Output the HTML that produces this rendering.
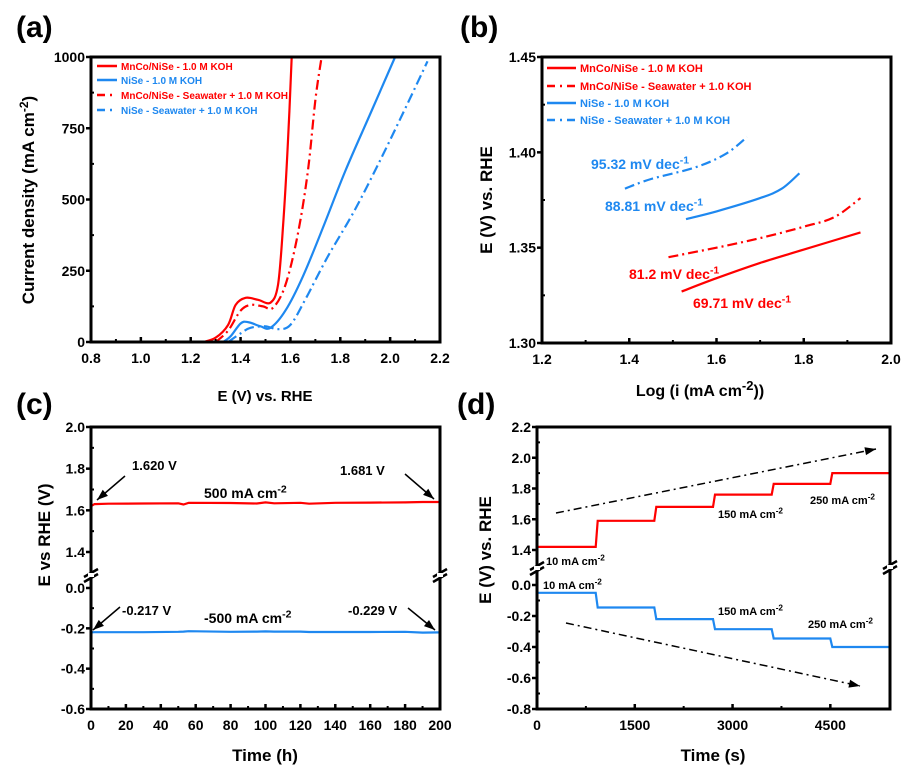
<!DOCTYPE html>
<html><head><meta charset="utf-8"><style>
html,body{margin:0;padding:0;background:#fff;}
svg{display:block;font-family:"Liberation Sans",Arial,sans-serif;font-weight:bold;}
</style></head><body>
<svg id="fig" width="914" height="772" viewBox="0 0 914 772" xmlns="http://www.w3.org/2000/svg">
<g id="gA"></g>
<g id="gB"></g>
<g id="gC"></g>
<g id="gD"></g>
</svg>
<script>
// ---- Panel (a) data: LSV curves (E vs RHE, current density) ----
const aRedSolidE=[1.25,1.30,1.35,1.38,1.42,1.47,1.52,1.55,1.57,1.59,1.605];
const aRedSolidJ=[0,15,60,130,155,148,138,200,400,700,1000];
const aRedDashE=[1.30,1.35,1.40,1.44,1.49,1.53,1.58,1.63,1.67,1.70,1.725];
const aRedDashJ=[0,40,110,130,125,120,200,380,600,850,1000];
const aBlueSolidE=[1.33,1.36,1.40,1.43,1.48,1.52,1.58,1.65,1.73,1.82,1.92,2.02];
const aBlueSolidJ=[0,20,65,70,55,50,110,230,400,600,800,1000];
const aBlueDashE=[1.35,1.40,1.44,1.50,1.55,1.60,1.66,1.75,1.85,1.95,2.05,2.15];
const aBlueDashJ=[0,30,50,55,45,60,150,300,450,620,800,985];
const aXTicks=[0.8,1.0,1.2,1.4,1.6,1.8,2.0,2.2];
const aYTicks=[0,250,500,750,1000];
// ---- Panel (b) data: Tafel ----
const bRedSolidX=[1.52,1.6,1.7,1.8,1.93];
const bRedSolidY=[1.327,1.334,1.342,1.349,1.358];
const bRedDashX=[1.49,1.6,1.7,1.8,1.87,1.93];
const bRedDashY=[1.345,1.350,1.355,1.361,1.366,1.376];
const bBlueSolidX=[1.53,1.6,1.7,1.75,1.79];
const bBlueSolidY=[1.365,1.369,1.376,1.381,1.389];
const bBlueDashX=[1.39,1.45,1.55,1.62,1.67];
const bBlueDashY=[1.381,1.386,1.392,1.399,1.408];
const bXTicks=[1.2,1.4,1.6,1.8,2.0];
const bYTicks=[1.30,1.35,1.40,1.45];
// ---- Panel (c) data: stability ----
const cT=[0,2,10,30,50,53,56,80,95,100,105,120,125,140,160,180,190,200];
const cRed=[1.62,1.63,1.632,1.633,1.634,1.628,1.636,1.635,1.633,1.638,1.634,1.636,1.632,1.636,1.637,1.638,1.64,1.64];
const cBlue=[-0.22,-0.219,-0.219,-0.219,-0.217,-0.216,-0.214,-0.217,-0.216,-0.215,-0.216,-0.216,-0.218,-0.218,-0.218,-0.217,-0.221,-0.22];
const cXTicks=[0,20,40,60,80,100,120,140,160,180,200];
const cYTicksUp=[1.4,1.6,1.8,2.0];
const cYTicksLow=[-0.6,-0.4,-0.2,0.0];
// ---- Panel (d) data: multistep ----
const dStepT=[0,900,1800,2700,3600,4500,5400];
const dRed=[1.42,1.59,1.68,1.76,1.83,1.90];
const dBlue=[-0.05,-0.145,-0.22,-0.285,-0.345,-0.40];
const dXTicks=[0,1500,3000,4500];
const dYTicksUp=[1.4,1.6,1.8,2.0,2.2];
const dYTicksLow=[-0.8,-0.6,-0.4,-0.2,0.0];

const NS="http://www.w3.org/2000/svg";
const RED="#ff0000",BLUE="#1e88f0";
function mk(parent,tag,attrs,text){const e=document.createElementNS(NS,tag);for(const k in attrs)e.setAttribute(k,attrs[k]);if(text!==undefined)e.textContent=text;parent.appendChild(e);return e;}
function lin(d0,d1,p0,p1){return v=>p0+(v-d0)*(p1-p0)/(d1-d0);}
function pathFrom(xs,ys,sx,sy){return xs.map((x,i)=>(i?'L':'M')+sx(x).toFixed(1)+' '+sy(ys[i]).toFixed(1)).join(' ');}
function smoothFrom(xs,ys,sx,sy){
  const p=xs.map((x,i)=>[sx(x),sy(ys[i])]);
  let d='M'+p[0][0].toFixed(1)+' '+p[0][1].toFixed(1);
  for(let i=0;i<p.length-1;i++){
    const p0=p[Math.max(0,i-1)],p1=p[i],p2=p[i+1],p3=p[Math.min(p.length-1,i+2)];
    const c1=[p1[0]+(p2[0]-p0[0])/6,p1[1]+(p2[1]-p0[1])/6],c2=[p2[0]-(p3[0]-p1[0])/6,p2[1]-(p3[1]-p1[1])/6];
    d+=` C${c1[0].toFixed(1)} ${c1[1].toFixed(1)} ${c2[0].toFixed(1)} ${c2[1].toFixed(1)} ${p2[0].toFixed(1)} ${p2[1].toFixed(1)}`;
  }
  return d;
}
const DASH="10 4 2 4";

function frame(g,x0,y0,x1,y1){
  const r=mk(g,'rect',{x:x0,y:y0,width:x1-x0,height:y1-y0,fill:'none',stroke:'#000','stroke-width':3});
  
}
function xTicks(g,ticks,sx,yb,fmt,minor){
  ticks.forEach((t,i)=>{
    const x=sx(t);
    const l=mk(g,'line',{x1:x,x2:x,y1:yb,y2:yb-5,stroke:'#000','stroke-width':2.5});
    
    const tx=mk(g,'text',{x:x,y:yb+21,'text-anchor':'middle','font-size':14},fmt(t));
    
    if(minor&&i<ticks.length-1){const m=(x+sx(ticks[i+1]))/2;mk(g,'line',{x1:m,x2:m,y1:yb,y2:yb-3,stroke:'#000','stroke-width':2});}
  });
}
function yTicks(g,ticks,sy,xl,fmt,minor){
  ticks.forEach((t,i)=>{
    const y=sy(t);
    const l=mk(g,'line',{x1:xl,x2:xl-5,y1:y,y2:y,stroke:'#000','stroke-width':2.5});
    
    const tx=mk(g,'text',{x:xl-6,y:y+5,'text-anchor':'end','font-size':14},fmt(t));
    
    if(minor&&i<ticks.length-1){const m=(y+sy(ticks[i+1]))/2;mk(g,'line',{x1:xl,x2:xl+3,y1:m,y2:m,stroke:'#000','stroke-width':2});}
  });
}
function label(g,x,y,txt,name){const t=mk(g,'text',{x:x,y:y,'font-size':30},txt);}
function series(g,d,color,dash,name){
  const p=mk(g,'path',{d:d,fill:'none',stroke:color,'stroke-width':2.2});
  if(dash)p.setAttribute('stroke-dasharray',dash);
  
}
function legend(g,x,y,color,dash,txt,fs,len){
  const l=mk(g,'line',{x1:x,x2:x+len,y1:y,y2:y,stroke:color,'stroke-width':2.5});
  if(dash)l.setAttribute('stroke-dasharray',"8 5 2 5");
  
  const t=mk(g,'text',{x:x+len+4,y:y+4,'font-size':fs,fill:color},txt);
  
}
function sup(g,x,y,base,s,fs,color,name,anchor){
  const t=mk(g,'text',{x:x,y:y,'font-size':fs,fill:color||'#000','text-anchor':anchor||'start'});
  t.appendChild(document.createTextNode(base));
  mk(t,'tspan',{dy:-fs*0.4,'font-size':fs*0.75},s);
  
  return t;
}
function breakMark(g,x,y){mk(g,'path',{d:`M${x-7} ${y+1} L${x+7} ${y-7} M${x-7} ${y+6} L${x+7} ${y-2}`,stroke:'#000','stroke-width':2.5,fill:'none'});
  mk(g,'rect',{x:x-3,y:y-3,width:6,height:4,fill:'#fff'});}
function arrow(g,x1,y1,x2,y2,dash,name){
  const l=mk(g,'line',{x1,y1,x2,y2,stroke:'#000','stroke-width':1.5});
  if(dash)l.setAttribute('stroke-dasharray',dash);
  
  const a=Math.atan2(y2-y1,x2-x1),L=11,W=4;
  const bx=x2-L*Math.cos(a),by=y2-L*Math.sin(a);
  mk(g,'polygon',{points:`${x2},${y2} ${bx+W*Math.sin(a)},${by-W*Math.cos(a)} ${bx-W*Math.sin(a)},${by+W*Math.cos(a)}`,fill:'#000'});
}

// ===== Panel A =====
(function(){
  const g=document.getElementById('gA');
  const sx=lin(0.8,2.2,91,440),sy=lin(0,1000,342,57);
  series(g,smoothFrom(aRedSolidE,aRedSolidJ,sx,sy),RED,null,'series-mnco-nise-koh');
  series(g,smoothFrom(aRedDashE,aRedDashJ,sx,sy),RED,DASH,'series-mnco-nise-seawater');
  series(g,smoothFrom(aBlueSolidE,aBlueSolidJ,sx,sy),BLUE,null,'series-nise-koh');
  series(g,smoothFrom(aBlueDashE,aBlueDashJ,sx,sy),BLUE,DASH,'series-nise-seawater');
  frame(g,91,57,440,342);
  xTicks(g,aXTicks,sx,342,v=>v.toFixed(1),true);
  yTicks(g,aYTicks,sy,91,v=>String(v),true);
  legend(g,97,66,RED,false,'MnCo/NiSe - 1.0 M KOH',10,20);
  legend(g,97,80,BLUE,false,'NiSe - 1.0 M KOH',10,20);
  legend(g,97,95,RED,true,'MnCo/NiSe - Seawater + 1.0 M KOH',10,20);
  legend(g,97,110,BLUE,true,'NiSe - Seawater + 1.0 M KOH',10,20);
  const yt=mk(g,'text',{x:0,y:0,'font-size':17,'text-anchor':'middle',transform:'translate(34,200) rotate(-90)'});
  yt.appendChild(document.createTextNode('Current density (mA cm'));mk(yt,'tspan',{dy:-6,'font-size':12},'-2');mk(yt,'tspan',{dy:6},')');
  
  const xt=mk(g,'text',{x:265,y:401,'font-size':15,'text-anchor':'middle'},'E (V) vs. RHE');
  
  label(g,16,37,'(a)','panel-label-a');
})();

// ===== Panel B =====
(function(){
  const g=document.getElementById('gB');
  const sx=lin(1.2,2.0,542,891),sy=lin(1.30,1.45,343,57);
  series(g,smoothFrom(bRedSolidX,bRedSolidY,sx,sy),RED,null,'series-mnco-nise-koh');
  series(g,smoothFrom(bRedDashX,bRedDashY,sx,sy),RED,DASH,'series-mnco-nise-seawater');
  series(g,smoothFrom(bBlueSolidX,bBlueSolidY,sx,sy),BLUE,null,'series-nise-koh');
  series(g,smoothFrom(bBlueDashX,bBlueDashY,sx,sy),BLUE,DASH,'series-nise-seawater');
  frame(g,542,57,891,343);
  xTicks(g,bXTicks,sx,343,v=>v.toFixed(1),true);
  yTicks(g,bYTicks,sy,542,v=>v.toFixed(2),true);
  legend(g,547,68,RED,false,'MnCo/NiSe -  1.0 M KOH',11,29);
  legend(g,547,86,RED,true,'MnCo/NiSe - Seawater + 1.0 KOH',11,29);
  legend(g,547,103,BLUE,false,'NiSe - 1.0 M KOH',11,29);
  legend(g,547,120,BLUE,true,'NiSe - Seawater + 1.0 M KOH',11,29);
  sup(g,591,169,'95.32 mV dec','-1',14,BLUE,'slope-label-nise-seawater');
  sup(g,605,211,'88.81 mV dec','-1',14,BLUE,'slope-label-nise-koh');
  sup(g,629,279,'81.2 mV dec','-1',14,RED,'slope-label-mnco-seawater');
  sup(g,693,308,'69.71 mV dec','-1',14,RED,'slope-label-mnco-koh');
  const yt=mk(g,'text',{x:0,y:0,'font-size':17,'text-anchor':'middle',transform:'translate(492,200) rotate(-90)'},'E (V) vs. RHE');
  
  const xt=mk(g,'text',{x:700,y:396,'font-size':16,'text-anchor':'middle'});
  xt.appendChild(document.createTextNode('Log (i (mA cm'));mk(xt,'tspan',{dy:-6,'font-size':13},'-2');mk(xt,'tspan',{dy:6},'))');
  
  label(g,460,37,'(b)','panel-label-b');
})();

// ===== Panel C =====
(function(){
  const g=document.getElementById('gC');
  const sx=lin(0,200,91,440);
  const syU=lin(1.4,2.0,552,427),syL=lin(-0.6,0.0,709,588);
  series(g,pathFrom(cT,cRed,sx,syU),RED,null,'series-oer-500');
  series(g,pathFrom(cT,cBlue,sx,syL),BLUE,null,'series-her-minus-500');
  frame(g,91,427,440,709);
  xTicks(g,cXTicks,sx,709,v=>String(v),true);
  yTicks(g,cYTicksUp,syU,91,v=>v.toFixed(1),true);
  yTicks(g,cYTicksLow,syL,91,v=>v.toFixed(1),true);
  breakMark(g,91,576);breakMark(g,440,576);
  const a1=mk(g,'text',{x:132,y:470,'font-size':13},'1.620 V');
  arrow(g,125,476,97,500,null,'arrow-start-oer');
  const a2=mk(g,'text',{x:340,y:475,'font-size':13},'1.681 V');
  arrow(g,405,474,434,499,null,'arrow-end-oer');
  sup(g,204,498,'500 mA cm','-2',14,'#000','label-oer-current');
  const a3=mk(g,'text',{x:122,y:615,'font-size':13},'-0.217 V');
  arrow(g,120,607,93,630,null,'arrow-start-her');
  const a4=mk(g,'text',{x:348,y:615,'font-size':13},'-0.229 V');
  arrow(g,408,608,435,630,null,'arrow-end-her');
  sup(g,204,623,'-500 mA cm','-2',14,'#000','label-her-current');
  const yt=mk(g,'text',{x:0,y:0,'font-size':17,'text-anchor':'middle',transform:'translate(50,535) rotate(-90)'},'E vs RHE (V)');
  
  const xt=mk(g,'text',{x:265,y:761,'font-size':17,'text-anchor':'middle'},'Time (h)');
  
  label(g,16,414,'(c)','panel-label-c');
})();

// ===== Panel D =====
(function(){
  const g=document.getElementById('gD');
  const sx=lin(0,5400,537,889);
  const syU=lin(1.4,2.2,550,427),syL=lin(-0.8,0.0,709,585);
  function stepPath(vals,sy){let d='';vals.forEach((v,i)=>{const x0=sx(dStepT[i]),x1=sx(dStepT[i+1]);d+=(i?'L':'M')+(x0+(i?2:0)).toFixed(1)+' '+sy(v).toFixed(1)+' L'+x1.toFixed(1)+' '+sy(v).toFixed(1)+' ';});return d;}
  series(g,stepPath(dRed,syU),RED,null,'series-oer-steps');
  series(g,stepPath(dBlue,syL),BLUE,null,'series-her-steps');
  frame(g,537,427,890,709);
  xTicks(g,dXTicks,sx,709,v=>String(v),true);
  yTicks(g,dYTicksUp,syU,537,v=>v.toFixed(1),true);
  yTicks(g,dYTicksLow,syL,537,v=>v.toFixed(1),true);
  breakMark(g,537,569);breakMark(g,890,568);
  arrow(g,556,513,876,449,"8 4 2 4",'trend-arrow-up');
  arrow(g,566,623,860,686,"8 4 2 4",'trend-arrow-down');
  sup(g,546,565,'10 mA cm','-2',11,'#000','label-10-oer');
  sup(g,718,518,'150 mA cm','-2',11,'#000','label-150-oer');
  sup(g,810,504,'250 mA cm','-2',11,'#000','label-250-oer');
  sup(g,543,589,'10 mA cm','-2',11,'#000','label-10-her');
  sup(g,718,615,'150 mA cm','-2',11,'#000','label-150-her');
  sup(g,808,628,'250 mA cm','-2',11,'#000','label-250-her');
  const yt=mk(g,'text',{x:0,y:0,'font-size':17,'text-anchor':'middle',transform:'translate(491,550) rotate(-90)'},'E (V) vs. RHE');
  
  const xt=mk(g,'text',{x:713,y:761,'font-size':17,'text-anchor':'middle'},'Time (s)');
  
  label(g,457,414,'(d)','panel-label-d');
})();
</script>
</body></html>
